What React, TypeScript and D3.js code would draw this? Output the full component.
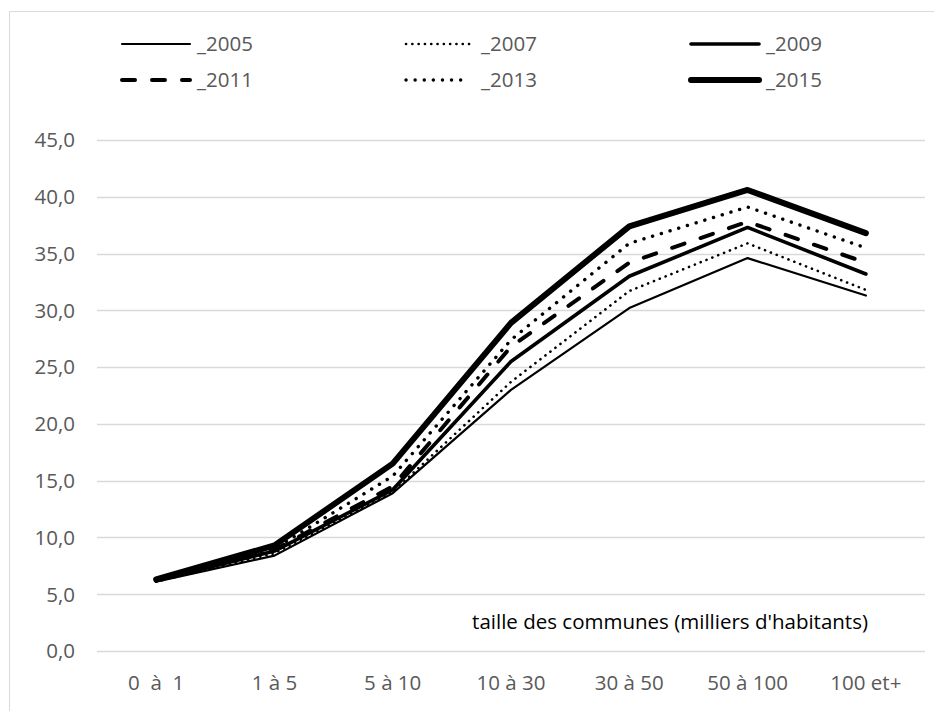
import React from "react";
import * as d3 from "d3";

// Categories: commune size classes (thousands of inhabitants)
const categories = ["0  à  1", "1 à 5", "5 à 10", "10 à 30", "30 à 50", "50 à 100", "100 et+"];

// Series values per year
const s2005 = [6.1, 8.4, 13.9, 23.0, 30.2, 34.6, 31.3];
const s2007 = [6.1, 8.6, 14.0, 23.7, 31.7, 35.9, 31.8];
const s2009 = [6.2, 8.8, 14.2, 25.5, 33.0, 37.3, 33.2];
const s2011 = [6.2, 8.9, 14.5, 26.8, 34.2, 37.8, 34.2];
const s2013 = [6.2, 9.0, 15.4, 27.4, 35.9, 39.1, 35.5];
const s2015 = [6.3, 9.3, 16.5, 28.9, 37.4, 40.6, 36.8];

const seriesNames = ["_2005", "_2007", "_2009", "_2011", "_2013", "_2015"];
const yTicks = [0, 5, 10, 15, 20, 25, 30, 35, 40, 45];
const axisTitle = "taille des communes (milliers d'habitants)";

type Style = { width: number; dash?: string; cap: "butt" | "round" };
const styles: Style[] = [
  { width: 2.2, cap: "round" },
  { width: 2.6, dash: "0.1 6.2", cap: "round" },
  { width: 3.6, cap: "round" },
  { width: 4, dash: "13 17", cap: "round" },
  { width: 3.4, dash: "0.1 9", cap: "round" },
  { width: 6, cap: "round" },
];

const W = 934;
const H = 711;
const FONT = "'Open Sans', Lato, sans-serif";
const TEXT = "#595959";
const GRID = "#d9d9d9";
const FS = 20.5;

export default function App() {
  const series = [s2005, s2007, s2009, s2011, s2013, s2015];
  const x = d3.scalePoint<string>().domain(categories).range([97, 925]).padding(0.5);
  const y = d3.scaleLinear().domain([0, 45]).range([651, 140]);
  const line = d3
    .line<number>()
    .x((_, i) => x(categories[i]) as number)
    .y((d) => y(d));

  const legendCols = [122, 406, 691];
  const legendRows = [44, 80];

  return (
    <svg
      width={W}
      height={H}
      style={{ position: "absolute", left: 0, top: 0, background: "#fff" }}
      fontFamily={FONT}
    >
      <rect x={0} y={0} width={W} height={H} fill="#fff" />
      {/* chart frame */}
      <line x1={9.5} y1={11.5} x2={W} y2={11.5} stroke={GRID} strokeWidth={1} />
      <line x1={9.5} y1={11.5} x2={9.5} y2={H} stroke={GRID} strokeWidth={1} />

      {/* gridlines and y labels */}
      {yTicks.map((t) => (
        <g key={t}>
          <line x1={97} x2={925} y1={Math.round(y(t)) + 0.5} y2={Math.round(y(t)) + 0.5} stroke={GRID} strokeWidth={1.3} />
          <text x={75} y={y(t)} dy="0.36em" textAnchor="end" fontSize={FS} fill={TEXT}>
            {d3.format(".1f")(t).replace(".", ",")}
          </text>
        </g>
      ))}

      {/* x labels */}
      {categories.map((c) => (
        <text
          key={c}
          x={x(c)}
          y={683}
          dy="0.36em"
          textAnchor="middle"
          fontSize={FS}
          fill={TEXT}
          style={{ whiteSpace: "pre" }}
        >
          {c}
        </text>
      ))}

      <text x={868} y={622} dy="0.36em" textAnchor="end" fontSize={FS} fill="#000">
        {axisTitle}
      </text>

      {/* series lines */}
      {series.map((s, i) => (
        <path
          key={seriesNames[i]}
          d={line(s) ?? ""}
          fill="none"
          stroke="#000"
          strokeWidth={styles[i].width}
          strokeDasharray={styles[i].dash}
          strokeLinecap={styles[i].cap}
          strokeLinejoin="round"
        />
      ))}

      {/* legend */}
      {seriesNames.map((name, i) => {
        const cx = legendCols[i % 3];
        const cy = legendRows[Math.floor(i / 3)];
        const len = i === 4 ? 62 : 68;
        return (
          <g key={name}>
            <line
              x1={cx}
              x2={cx + len}
              y1={cy}
              y2={cy}
              stroke="#000"
              strokeWidth={styles[i].width}
              strokeDasharray={styles[i].dash}
              strokeLinecap={styles[i].cap}
            />
            <text x={cx + 75} y={cy} dy="0.36em" fontSize={FS} fill={TEXT}>
              {name}
            </text>
          </g>
        );
      })}
    </svg>
  );
}
